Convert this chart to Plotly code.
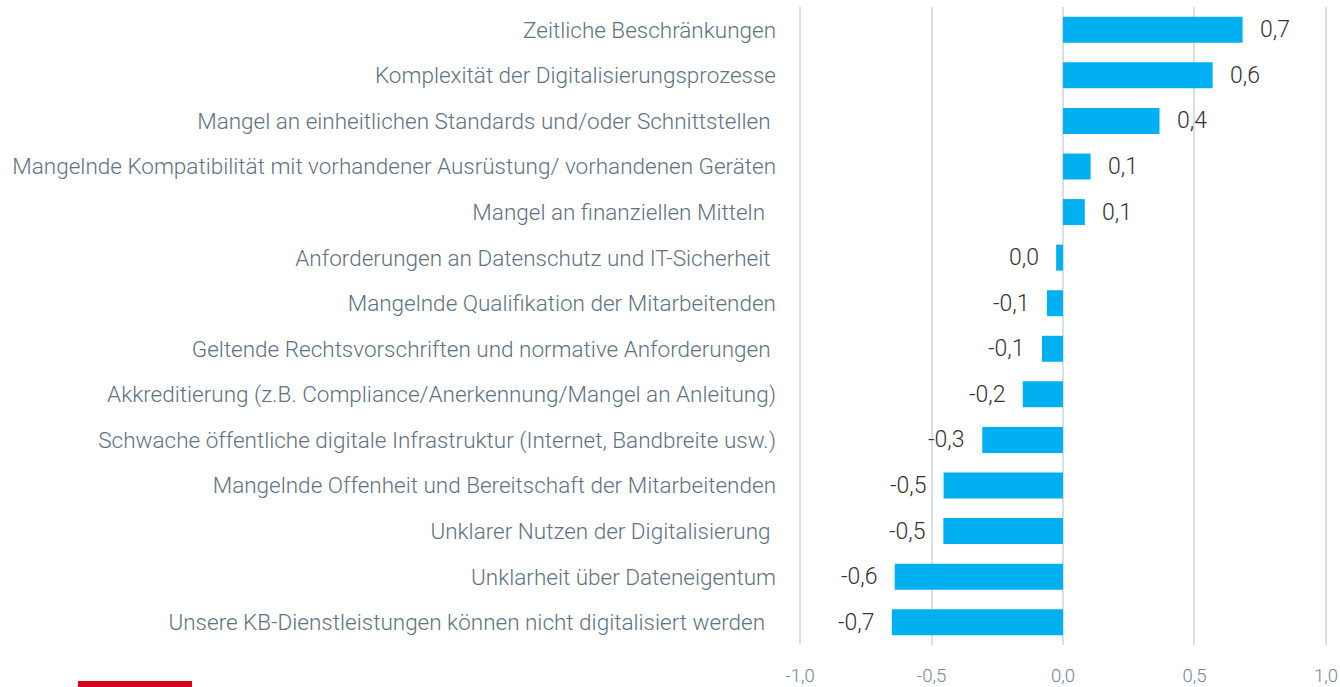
import plotly.graph_objects as go

categories = [
    "Zeitliche Beschränkungen",
    "Komplexität der Digitalisierungsprozesse",
    "Mangel an einheitlichen Standards und/oder Schnittstellen\u00a0",
    "Mangelnde Kompatibilität mit vorhandener Ausrüstung/ vorhandenen Geräten",
    "Mangel an finanziellen Mitteln\u00a0\u00a0",
    "Anforderungen an Datenschutz und IT-Sicherheit\u00a0",
    "Mangelnde Qualifikation der Mitarbeitenden",
    "Geltende Rechtsvorschriften und normative Anforderungen\u00a0",
    "Akkreditierung (z.B. Compliance/Anerkennung/Mangel an Anleitung)",
    "Schwache öffentliche digitale Infrastruktur (Internet, Bandbreite usw.)",
    "Mangelnde Offenheit und Bereitschaft der Mitarbeitenden",
    "Unklarer Nutzen der Digitalisierung\u00a0",
    "Unklarheit über Dateneigentum",
    "Unsere KB-Dienstleistungen können nicht digitalisiert werden\u00a0\u00a0",
]
values = [0.683, 0.569, 0.367, 0.105, 0.083, -0.026, -0.061, -0.080,
          -0.153, -0.307, -0.454, -0.455, -0.640, -0.651]
tick_vals = [-1.0, -0.5, 0.0, 0.5, 1.0]
tick_text = ["-1,0", "-0,5", "0,0", "0,5", "1,0"]

labels = [f"{round(v, 1) + 0.0:.1f}".replace(".", ",") for v in values]

FONT = "Roboto, 'Liberation Sans', Arial, sans-serif"

fig = go.Figure(go.Bar(
    x=values, y=categories, orientation="h",
    marker=dict(color="#00b0f0", line=dict(width=0)),
    hoverinfo="skip",
))

for v, c, t in zip(values, categories, labels):
    fig.add_annotation(
        x=v, y=c, text=t, showarrow=False,
        xanchor="left" if v >= 0 else "right",
        xshift=15 if v >= 0 else -15,
        font=dict(family=FONT, size=23, color="#333333", weight=300),
    )

W, H = 1340, 687
ML, MR, MT, MB = 799, 13, 7, 42
pw = W - ML - MR
ph = H - MT - MB

fig.add_shape(
    type="rect", xref="paper", yref="paper",
    x0=(78 - ML) / pw, x1=(192 - ML) / pw,
    y0=-(687 - (H - MB)) / ph, y1=-(681 - (H - MB)) / ph,
    fillcolor="#d6001c", line=dict(width=0),
)

fig.update_layout(
    width=W, height=H,
    margin=dict(l=ML, r=MR, t=MT, b=MB),
    paper_bgcolor="white", plot_bgcolor="white",
    bargap=0.43,
    showlegend=False,
    xaxis=dict(
        range=[-1.004, 1.004], tickvals=tick_vals, ticktext=tick_text,
        showgrid=True, gridcolor="#d8e0e6", gridwidth=2,
        zeroline=False, showline=False, ticks="",
        ticklabelstandoff=17, automargin=False,
        tickfont=dict(family=FONT, size=18.5, color="#72879a", weight=300),
    ),
    yaxis=dict(
        autorange="reversed", showgrid=False, zeroline=False,
        showline=False, ticks="", ticklabelstandoff=22, automargin=False,
        tickfont=dict(family=FONT, size=22.5, color="#5e7282", weight=300),
    ),
)

fig.write_html(
    "out.html",
    config={"displayModeBar": False},
    post_script="document.body.style.margin='0';document.body.style.overflow='hidden';",
)
